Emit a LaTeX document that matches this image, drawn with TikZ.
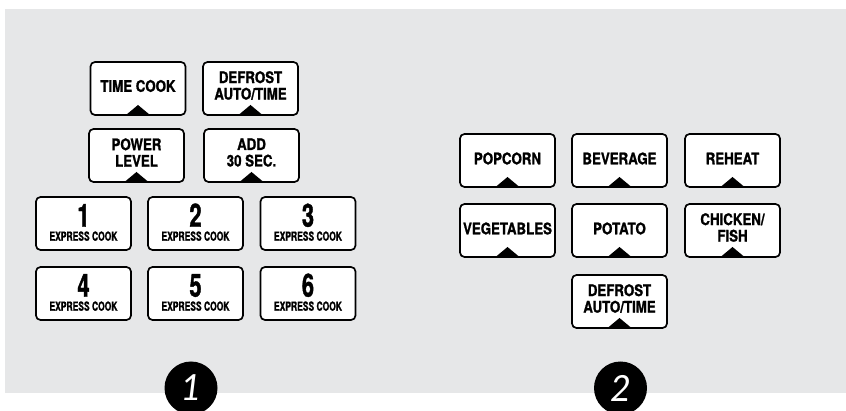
\documentclass[tikz,border=0pt]{standalone}
\usepackage{fontspec}
\newfontfamily\keyfont{TeX Gyre Heros}[FakeStretch=0.83, BoldFeatures={FakeBold=1.2}]
\newfontfamily\smallkeyfont{TeX Gyre Heros}[FakeStretch=0.68, BoldFeatures={FakeBold=1.2}]
\newfontfamily\circfont{Lato}
\definecolor{panelgray}{HTML}{E6E7E8}
\begin{document}
\begin{tikzpicture}[x=1pt,y=-1pt,
  btn/.style={draw=black, line width=1.7pt, fill=white, rounded corners=4.5pt,
    minimum width=95pt, minimum height=53pt, inner sep=0pt, outer sep=0pt},
  lbl/.style={inner sep=0pt, align=center, font=\keyfont\bfseries\fontsize{16}{16.5}\selectfont},
  digit/.style={inner sep=0pt, anchor=base, font=\smallkeyfont\bfseries\fontsize{32}{32}\selectfont},
  express/.style={inner sep=0pt, anchor=base, font=\smallkeyfont\bfseries\fontsize{12.5}{12.5}\selectfont},
  badge/.style={circle, fill=black, minimum size=53pt, inner sep=0pt,
    text=white, font=\circfont\itshape\fontsize{36}{36}\selectfont}]
\useasboundingbox (0,0) rectangle (846,411);
\fill[panelgray] (5,9) rectangle (846,393);
% top-left keys
\node[btn] (tc) at (138,88.5) {};
\node[btn] (df1) at (250.5,88.5) {};
\node[btn] (pl) at (136.5,155.5) {};
\node[btn] (add) at (251.5,155.5) {};
\node[lbl] (tcl) at ([yshift=2.5pt]tc.center) {TIME COOK};
\node[lbl] (df1l) at ([yshift=3pt]df1.center) {DEFROST\\AUTO/TIME};
\node[lbl] (pll) at ([yshift=3pt]pl.center) {POWER\\LEVEL};
\node[lbl] (addl) at ([yshift=3pt]add.center) {ADD\\30 SEC.};
% number keys
\foreach \n/\x/\y in {1/83.5/223.5, 2/195.5/223.5, 3/308/223.5, 4/83.5/293.5, 5/195.5/293.5, 6/308/293.5}{
  \node[btn] (k\n) at (\x,\y) {};
  \node[digit] (k\n d) at ([yshift=-3.2pt]k\n.center) {\n};
  \node[express] (k\n e) at ([yshift=-17.2pt]k\n.center) {EXPRESS COOK};
}
% right keys
\node[btn] (pop) at (507.5,160.5) {};
\node[btn] (bev) at (619.5,160.5) {};
\node[btn] (reh) at (732.5,160.5) {};
\node[btn] (veg) at (507.5,230.5) {};
\node[btn] (pot) at (619.5,230.5) {};
\node[btn] (chk) at (732.5,230.5) {};
\node[btn] (df2) at (619.5,301.5) {};
\node[lbl] (popl) at ([yshift=2pt]pop.center) {POPCORN};
\node[lbl] (bevl) at ([yshift=2pt]bev.center) {BEVERAGE};
\node[lbl] (rehl) at ([yshift=2pt]reh.center) {REHEAT};
\node[lbl] (vegl) at ([yshift=2pt]veg.center) {VEGETABLES};
\node[lbl] (potl) at ([yshift=2pt]pot.center) {POTATO};
\node[lbl] (chkl) at ([yshift=3pt]chk.center) {CHICKEN/\\FISH};
\node[lbl] (df2l) at ([yshift=3pt]df2.center) {DEFROST\\AUTO/TIME};
% pointer triangles
\foreach \k in {tc,df1,pl,add,pop,bev,reh,veg,pot,chk,df2}{
  \fill[black] ([xshift=-12pt]\k.south) -- ([yshift=10pt]\k.south) -- ([xshift=12pt]\k.south) -- cycle;
}
% badges
\node[badge] (b1) at (191,388) {1};
\node[badge] (b2) at (620.5,388) {2};
\end{tikzpicture}
\end{document}
